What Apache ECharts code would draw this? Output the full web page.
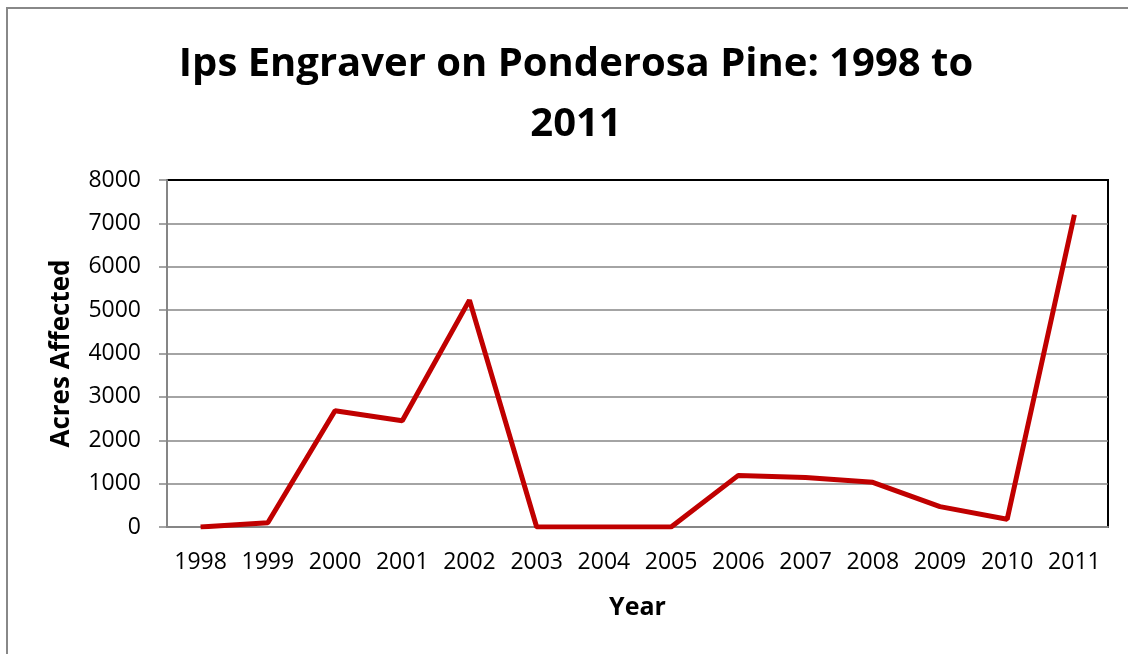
<!DOCTYPE html>
<html>
<head>
<meta charset="utf-8">
<script src="https://cdn.jsdelivr.net/npm/echarts@6/dist/echarts.min.js"></script>
<style>
  html, body { margin: 0; padding: 0; background: #fff; }
  #chart { width: 1128px; height: 654px; }
</style>
</head>
<body>
<div id="chart"></div>
<script>
const years = ['1998', '1999', '2000', '2001', '2002', '2003', '2004',
  '2005', '2006', '2007', '2008', '2009', '2010', '2011']
const acres = [0, 100, 2680, 2450, 5230, 0, 0, 0, 1190, 1140, 1030, 470, 180, 7200]
const yTicks = [0, 8000, 1000] // min, max, step

const chart = echarts.init(document.getElementById('chart'))
const fontFamily = '"Open Sans", Calibri, sans-serif'

// gridlines gray, top one black (plot border)
const gridColors = ['#868686', '#868686', '#868686', '#868686', '#868686',
  '#868686', '#868686', '#868686', '#000']

chart.setOption({
  animation: false,
  textStyle: { fontFamily: fontFamily },
  title: {
    text: 'Ips Engraver on Ponderosa Pine: 1998 to\n2011',
    left: 571,
    textAlign: 'center',
    top: 30,
    textStyle: {
      fontFamily: fontFamily,
      fontSize: 40,
      fontWeight: 'bold',
      color: '#000',
      lineHeight: 60,
    },
  },
  graphic: [{
    type: 'rect',
    shape: { x: 7, y: 8, width: 1140, height: 670 },
    style: { fill: 'none', stroke: '#888', lineWidth: 2 },
    silent: true,
  }],
  grid: {
    left: 167,
    right: 20,
    top: 180,
    bottom: 127,
    show: true,
    borderColor: '#000',
    borderWidth: 2,
  },
  xAxis: {
    type: 'category',
    data: years,
    boundaryGap: true,
    name: 'Year',
    nameLocation: 'middle',
    nameGap: 68,
    nameTextStyle: { fontSize: 25, fontWeight: 'bold', color: '#000', fontFamily: fontFamily },
    axisLine: { lineStyle: { color: '#868686', width: 2 } },
    axisTick: { show: false },
    axisLabel: { fontSize: 23, color: '#000', margin: 24, interval: 0 },
  },
  yAxis: {
    type: 'value',
    min: yTicks[0],
    max: yTicks[1],
    interval: yTicks[2],
    name: 'Acres Affected',
    nameLocation: 'middle',
    nameGap: 92,
    nameTextStyle: { fontSize: 26, fontWeight: 'bold', color: '#000', fontFamily: fontFamily },
    axisLine: { show: true, lineStyle: { color: '#868686', width: 2 } },
    axisTick: { show: true, length: 8, lineStyle: { color: '#868686', width: 1.5 } },
    axisLabel: { fontSize: 23, color: '#000', margin: 26, formatter: v => String(v) },
    splitLine: { lineStyle: { color: gridColors, width: 1.5 } },
  },
  series: [{
    type: 'line',
    data: acres,
    showSymbol: false,
    symbol: 'none',
    lineStyle: { color: '#c00000', width: 5 },
  }],
})
</script>
</body>
</html>
